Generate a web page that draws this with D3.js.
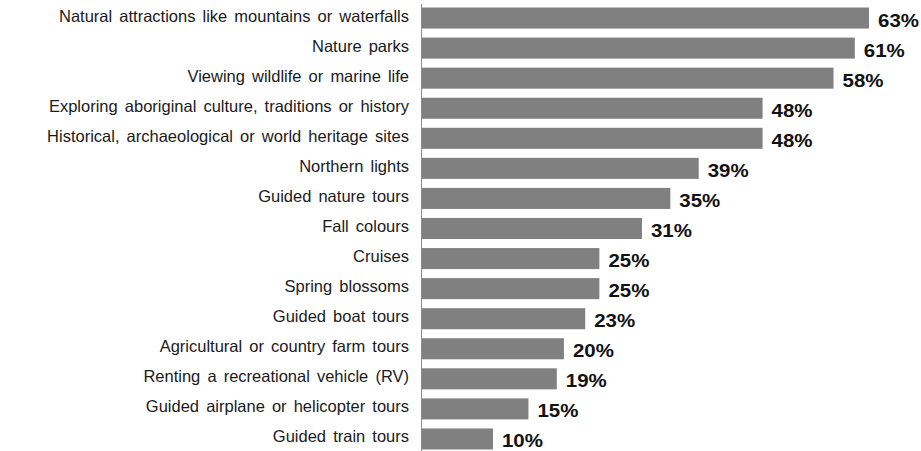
<!DOCTYPE html>
<html><head><meta charset="utf-8">
<script src="https://cdn.jsdelivr.net/npm/d3@7"></script>
<style>body{margin:0;background:#fff}</style>
</head><body>
<script>
const categories = ["Natural attractions like mountains or waterfalls","Nature parks","Viewing wildlife or marine life","Exploring aboriginal culture, traditions or history","Historical, archaeological or world heritage sites","Northern lights","Guided nature tours","Fall colours","Cruises","Spring blossoms","Guided boat tours","Agricultural or country farm tours","Renting a recreational vehicle (RV)","Guided airplane or helicopter tours","Guided train tours"];
const values = [63,61,58,48,48,39,35,31,25,25,23,20,19,15,10];

const W = 921, H = 451;
const svg = d3.select("body").append("svg").attr("width", W).attr("height", H);
const x = d3.scaleLinear().domain([0, 63]).range([422, 869]);
const y = d3.scaleBand().domain(categories).range([3, 454]).paddingInner(0.3).paddingOuter(0.15);

svg.selectAll("rect.bar").data(values).join("rect")
  .attr("x", x(0)).attr("y", (d,i)=>y(categories[i]))
  .attr("width", d=>x(d)-x(0)).attr("height", y.bandwidth()).attr("fill", "#808080");

svg.append("line").attr("x1", 421.5).attr("x2", 421.5).attr("y1", 4).attr("y2", H).attr("stroke", "#8c8c8c").attr("stroke-width", 1);

svg.selectAll("text.cat").data(categories).join("text")
  .attr("x", 409).attr("y", d=>y(d)+y.bandwidth()/2 + 3.5)
  .attr("text-anchor", "end").attr("font-family", "Liberation Sans, Arial, sans-serif")
  .attr("font-size", 16.5).attr("fill", "#1a1a1a").style("word-spacing", "2.5px").text(d=>d);

svg.selectAll("text.val").data(values).join("text")
  .attr("transform", (d,i)=>`translate(${x(d)+9},${y(categories[i])+y.bandwidth()/2 + 8.5}) scale(1.17,1)`)
  .attr("font-family", "Liberation Sans, Arial, sans-serif").attr("font-weight", "bold")
  .attr("font-size", 17.5).attr("fill", "#111").text(d=>d+"%");
</script>
</body></html>
